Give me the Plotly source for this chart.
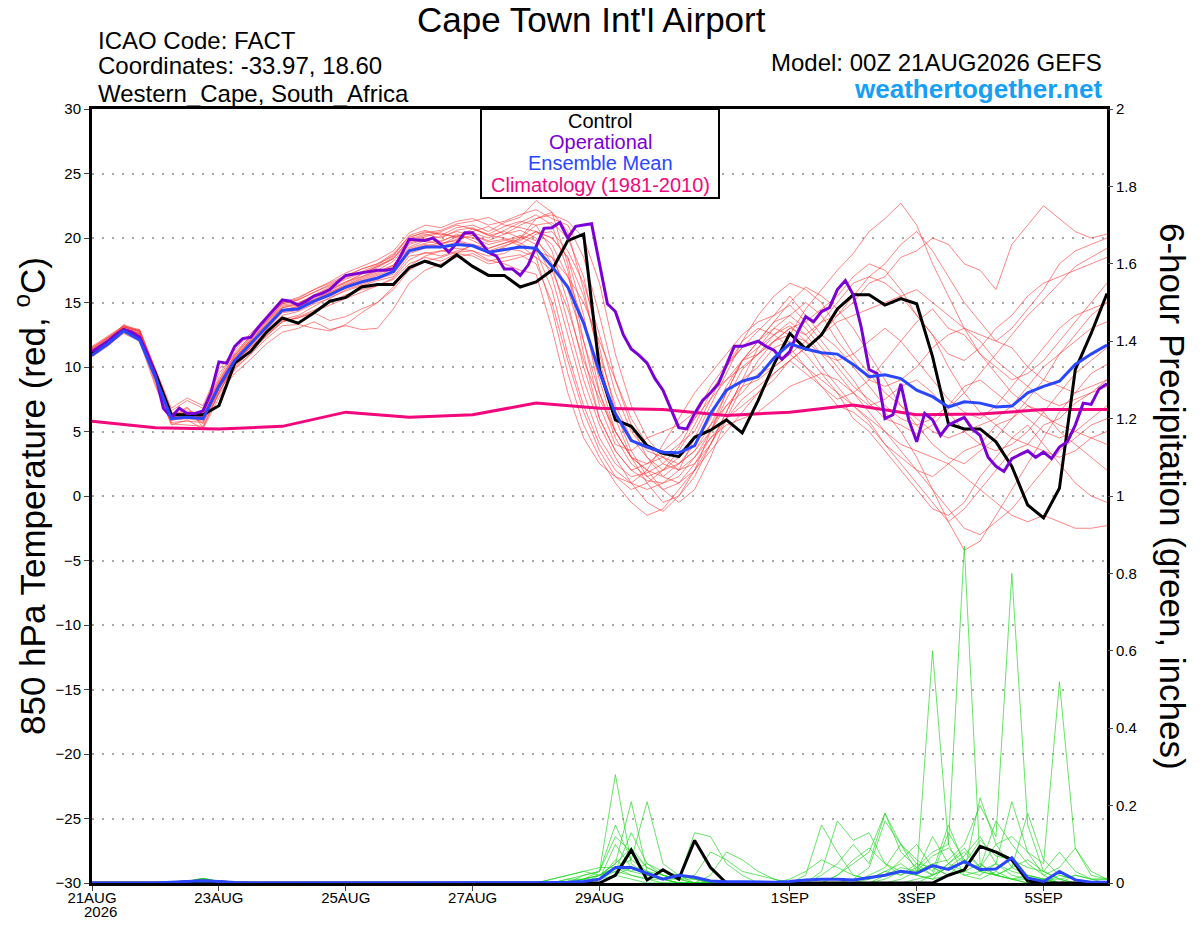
import pandas as pd
import plotly.graph_objects as go

# forecast times (GEFS 6-hourly, operational 3-hourly)
times = pd.date_range("2026-08-21 00:00", periods=65, freq="6h")
times_op = pd.date_range("2026-08-21 00:00", periods=129, freq="3h")
clim_times = pd.date_range("2026-08-21", periods=17, freq="D")

# 850 hPa temperature, ensemble members (deg C)
m01 = [11.3,12.1,13.0,12.6,9.4,6.2,6.0,6.2,8.8,10.8,12.0,13.3,14.6,14.8,15.4,15.9,16.6,17.0,17.5,18.2,19.6,20.0,19.7,20.3,19.8,19.2,19.6,20.1,19.5,17.0,12.5,8.0,4.5,2.5,1.5,1.8,2.5,3.8,6.0,8.5,10.2,11.5,12.8,14.0,14.8,13.5,12.0,10.5,9.0,7.2,6.0,5.5,4.8,5.5,6.8,8.0,9.5,11.0,12.5,14.0,15.2,16.5,17.8,18.5,19.2]
m02 = [11.0,11.9,13.2,12.4,9.0,5.8,6.5,5.6,8.0,10.2,11.5,12.8,14.0,14.3,14.9,15.3,16.0,16.4,16.8,17.2,18.8,19.2,19.5,20.1,20.4,20.0,20.6,21.2,21.8,21.0,17.5,11.0,6.0,3.5,2.0,1.2,1.0,1.5,3.0,5.0,7.5,9.8,11.0,12.5,13.2,12.0,10.0,8.5,7.0,5.8,4.0,2.5,1.0,-0.5,-2.0,-1.0,0.5,2.0,3.5,4.0,5.5,6.0,7.2,8.0,9.0]
m03 = [11.5,12.3,12.8,12.9,9.8,6.6,7.4,6.8,9.5,11.0,12.4,13.6,14.9,15.2,15.8,16.4,17.0,17.6,18.0,18.6,20.2,20.6,20.2,20.8,21.0,20.5,21.2,21.6,22.9,22.0,20.5,16.0,10.5,6.0,3.0,1.0,-0.5,0.0,1.5,4.0,6.5,9.0,11.5,13.0,12.5,14.5,16.0,17.5,18.8,20.5,21.5,22.7,21.0,18.0,15.5,13.0,11.0,9.5,8.0,7.0,6.2,5.5,5.0,4.5,4.0]
m04 = [10.8,11.6,12.7,12.2,8.7,5.5,5.9,5.2,7.6,9.8,11.0,12.5,13.6,13.8,14.2,13.6,13.9,14.5,15.0,16.2,17.8,18.6,19.0,18.8,19.5,19.0,19.4,19.8,20.5,20.0,18.5,14.0,8.0,4.5,2.5,1.5,2.0,3.0,4.0,5.5,8.0,10.5,12.0,13.5,14.0,13.0,11.5,10.0,8.5,7.5,6.5,5.0,3.0,0.5,-2.0,-4.2,-3.5,-1.5,0.5,2.5,4.5,6.5,8.0,9.5,10.2]
m05 = [11.2,12.0,13.3,12.7,9.2,6.0,6.3,6.5,9.0,10.9,12.2,13.5,14.8,15.0,15.5,16.0,16.5,17.2,17.8,18.4,19.9,20.3,20.0,20.6,20.8,20.2,20.0,19.6,19.0,16.0,11.0,7.0,4.0,2.0,1.0,0.5,1.0,2.0,4.5,7.0,9.5,12.0,14.0,15.5,16.5,16.0,15.0,13.0,11.0,9.5,8.0,7.0,6.0,5.0,4.5,5.0,5.5,6.0,7.0,8.5,10.0,11.0,12.0,13.0,13.5]
m06 = [11.1,12.0,12.9,12.4,9.2,6.1,6.8,6.0,8.4,10.0,11.2,12.4,13.5,13.9,14.4,15.0,15.6,16.0,16.3,16.8,18.0,18.5,18.2,18.8,18.6,18.0,18.2,18.5,19.0,18.5,17.0,15.0,12.0,9.0,6.0,4.0,2.5,2.0,3.0,4.5,6.0,7.5,8.5,9.5,10.5,11.5,12.5,14.0,15.0,16.5,17.0,18.5,19.0,20.0,19.5,18.0,17.5,16.0,19.5,21.0,22.5,21.5,20.5,20.0,20.3]
m07 = [11.4,12.2,13.1,12.8,9.6,6.4,6.2,6.0,8.6,10.6,12.0,13.0,14.3,14.6,15.3,15.8,16.3,16.9,17.3,17.9,19.3,19.8,19.5,19.9,20.2,19.7,19.9,19.4,18.5,14.5,9.5,5.5,3.0,1.0,-0.5,-1.5,-1.0,0.5,2.0,4.0,6.5,9.0,10.0,11.5,12.0,11.0,9.5,8.0,6.0,5.0,3.5,2.0,0.5,-1.0,-1.5,-0.5,1.5,3.0,4.5,5.5,4.0,2.5,1.0,0.0,-0.5]
m08 = [11.6,12.4,13.2,12.9,9.9,6.8,7.6,7.0,9.8,11.3,12.6,13.8,15.0,15.4,16.0,16.6,17.3,17.8,18.3,19.0,20.4,21.0,20.8,21.3,21.5,21.0,21.3,21.8,22.2,21.5,21.0,18.5,14.0,9.0,5.5,3.0,1.5,1.0,2.0,3.5,5.0,6.5,8.0,9.0,10.5,9.5,8.5,7.0,6.5,5.5,4.0,3.0,2.0,1.5,2.5,3.5,4.0,5.5,6.0,7.0,6.5,5.0,4.0,3.0,2.0]
m09 = [10.9,11.7,12.6,12.0,8.5,5.6,5.5,5.4,7.9,9.5,10.6,11.8,12.7,13.0,13.5,12.9,13.2,12.9,13.0,14.5,16.5,17.5,18.0,18.5,18.8,18.2,18.5,18.7,18.0,15.0,10.5,6.5,3.5,1.5,0.5,1.0,2.0,3.5,5.5,8.0,10.0,12.0,13.0,12.5,11.5,10.0,9.0,8.0,7.0,6.0,5.0,4.0,3.5,3.0,2.5,1.5,0.5,-0.5,-1.5,-2.0,-1.5,-2.0,-2.5,-2.5,-2.3]
m10 = [11.2,12.1,13.0,12.5,9.3,6.2,6.6,6.3,8.7,10.7,12.1,13.4,14.7,14.9,15.6,16.2,16.8,17.3,17.8,18.5,19.8,20.2,20.5,21.0,20.7,20.3,20.9,21.3,21.0,19.0,15.0,10.0,6.0,3.5,2.0,2.5,3.0,4.0,5.0,7.5,10.0,11.5,12.0,13.5,15.0,16.2,15.5,14.5,13.0,11.0,9.0,7.0,5.5,4.0,3.0,2.5,3.5,4.5,6.0,7.5,9.0,11.0,12.5,14.0,15.0]
m11 = [11.0,11.8,12.9,12.3,9.0,5.9,6.0,5.8,8.2,10.3,11.6,12.9,14.2,14.4,15.0,15.5,16.1,16.5,16.9,17.5,19.1,19.5,19.3,19.7,19.4,18.9,19.2,19.0,18.5,17.5,14.5,10.5,7.5,5.0,3.0,2.0,0.5,-0.5,0.5,3.0,6.0,8.5,10.5,12.0,13.0,12.5,13.5,14.0,15.5,17.0,18.0,19.5,20.5,19.0,17.0,15.0,13.5,12.0,11.5,10.0,9.0,8.5,8.0,8.5,9.0]
m12 = [10.9,11.9,13.0,12.5,9.1,6.0,6.2,6.1,8.5,10.4,11.5,12.6,13.7,14.0,14.7,15.4,15.9,16.3,16.7,17.0,18.6,18.8,19.0,19.2,19.0,18.6,18.8,19.5,20.3,20.5,19.0,16.5,12.5,8.0,5.0,3.5,3.0,2.5,3.5,5.0,7.0,8.5,9.0,10.0,11.0,10.0,8.5,7.5,8.0,9.0,10.5,12.0,13.5,14.5,13.0,12.5,11.0,10.0,9.0,9.5,10.5,12.0,13.5,15.0,16.5]
m13 = [11.3,12.2,13.1,12.7,9.5,6.3,6.4,6.4,8.9,10.9,12.3,13.5,14.9,15.2,15.8,16.3,16.9,17.4,17.9,18.7,20.0,20.5,20.3,20.1,20.7,20.2,20.5,20.0,21.5,22.0,18.0,12.0,7.0,4.0,3.5,4.5,5.0,5.5,6.5,8.0,9.0,10.0,11.0,12.0,13.0,13.5,14.5,15.5,17.0,18.0,17.5,16.0,14.0,12.5,11.0,10.5,11.5,13.0,14.0,15.5,16.5,17.0,17.5,18.0,18.5]
m14 = [11.0,11.8,12.8,12.3,9.1,6.0,6.1,5.9,8.3,10.1,11.3,12.4,13.5,13.8,14.3,14.8,15.3,15.8,16.3,16.9,18.3,18.9,18.6,19.0,19.4,18.8,19.3,20.0,21.0,21.2,20.0,17.0,11.5,6.5,3.5,1.5,0.5,1.0,2.5,4.5,5.5,6.0,6.5,7.5,8.5,9.0,9.5,9.0,8.0,6.5,5.0,3.5,2.0,0.5,-1.0,-2.5,-3.0,-2.0,-1.0,0.5,2.0,3.5,4.5,5.5,6.0]
m15 = [11.2,12.0,13.0,12.6,9.3,6.1,6.9,5.3,8.0,10.2,11.7,13.0,14.4,14.7,15.2,15.8,16.4,17.0,17.4,17.9,19.5,19.9,20.1,20.5,20.2,19.8,20.3,20.6,20.0,18.0,13.5,9.0,5.5,3.0,1.0,-0.5,-1.2,0.0,2.0,5.0,8.0,10.5,12.0,13.0,14.0,15.0,14.0,12.0,10.5,9.0,8.5,9.0,10.0,11.5,12.5,13.0,12.0,10.5,9.5,8.5,7.5,7.0,7.5,8.0,8.5]
m16 = [11.4,12.3,13.1,12.8,9.7,6.5,6.3,6.6,9.2,11.1,12.4,13.7,15.0,15.3,16.0,16.5,17.1,17.6,18.0,18.8,20.1,20.4,20.6,21.1,21.3,21.6,21.0,20.8,20.5,19.5,17.0,13.5,9.0,5.0,3.0,2.5,3.5,4.5,6.0,7.5,9.0,10.5,11.0,12.0,12.5,12.0,11.0,10.5,11.0,12.0,13.0,12.0,10.5,9.0,7.5,6.5,6.0,7.0,8.5,10.0,11.5,13.0,14.0,14.5,15.0]
m17 = [10.9,11.9,12.8,12.4,8.9,5.7,5.8,5.7,8.1,9.9,11.0,12.2,13.2,13.3,13.0,12.8,13.3,14.2,15.0,16.0,17.5,18.2,18.5,18.9,19.0,18.3,18.0,17.5,17.2,13.0,8.0,4.5,2.5,1.5,1.0,2.0,4.0,6.0,8.0,9.5,11.0,12.5,13.5,14.0,15.5,14.0,12.5,11.5,10.0,8.5,7.0,6.0,5.5,6.0,7.0,8.5,9.0,8.0,7.0,6.0,5.0,4.5,5.0,6.0,7.0]
m18 = [11.5,12.3,13.2,12.8,9.6,6.4,6.2,6.2,8.7,10.7,12.1,13.3,14.6,14.9,15.5,16.1,16.6,17.2,17.7,18.4,19.7,20.1,20.4,20.0,20.5,20.9,20.3,21.0,21.5,21.8,21.3,20.0,16.5,11.0,7.0,4.5,3.0,2.0,2.5,4.0,6.0,7.0,8.0,9.5,10.5,11.5,12.5,13.5,14.0,14.5,15.0,15.5,16.0,15.0,14.0,13.0,12.5,12.0,13.0,14.5,16.0,18.0,19.0,19.5,20.0]
m19 = [11.1,12.0,12.9,12.5,9.2,6.1,6.4,6.1,8.5,10.5,11.8,13.0,14.3,14.6,15.1,15.7,16.3,16.8,17.2,17.8,19.2,19.6,19.8,20.2,20.0,19.5,19.8,20.2,19.8,18.5,16.0,12.0,8.0,5.0,3.0,2.0,1.5,2.5,3.5,5.5,7.0,8.0,9.5,10.0,11.0,12.0,13.5,15.0,16.5,17.0,16.5,15.5,14.0,12.5,10.0,8.0,6.5,5.5,4.5,4.0,3.5,3.0,3.5,4.5,5.0]
m20 = [11.2,12.1,13.0,12.6,9.4,6.2,6.3,6.2,8.6,10.6,11.9,13.1,14.4,14.7,15.2,15.7,16.2,16.7,17.1,17.6,19.0,19.4,19.6,19.8,19.5,19.2,19.6,19.9,20.5,20.0,18.5,15.5,11.0,7.0,4.5,3.0,2.0,2.5,4.0,6.0,8.5,10.5,11.5,12.5,13.5,12.5,11.0,9.5,8.0,7.0,7.5,8.5,9.0,8.0,6.5,5.0,4.0,3.5,4.0,5.0,6.5,8.0,9.5,10.5,11.5]
members = [m01, m02, m03, m04, m05, m06, m07, m08, m09, m10,
           m11, m12, m13, m14, m15, m16, m17, m18, m19, m20]

control_t = [11.06,11.8,12.9,12.2,9.5,6.3,6.3,6.3,7.0,10.3,11.2,12.7,13.8,13.4,14.2,15.1,15.4,16.2,16.4,16.4,17.7,18.2,17.8,18.7,17.8,17.1,17.1,16.2,16.6,17.5,19.8,20.3,9.8,5.9,5.4,3.9,3.3,3.05,4.55,5.1,5.9,4.9,7.4,10.2,12.6,11.4,12.5,14.5,15.6,15.6,14.8,15.3,14.9,10.8,5.6,5.2,5.2,4.2,2.3,-0.7,-1.7,0.6,9.8,12.6,15.7]
mean_t = [10.9,11.8,12.8,12.1,9.2,6.0,6.1,6.0,8.5,10.5,11.8,13.1,14.4,14.5,15.1,15.6,16.2,16.6,16.9,17.4,19.0,19.3,19.3,19.5,19.4,18.9,19.1,19.3,19.2,17.8,16.2,13.4,9.6,6.4,4.3,3.8,3.4,3.35,3.9,6.4,8.2,8.9,9.25,10.7,11.8,11.4,11.1,11.0,10.2,9.25,9.4,9.1,8.2,7.7,6.9,7.3,7.2,6.9,6.97,8.0,8.5,8.9,10.2,11.0,11.7]
oper_t = [11.2,11.6,12.0,12.5,12.9,12.7,12.3,11.0,9.4,6.8,6.1,6.8,6.4,6.4,6.6,8.0,10.4,10.3,11.6,12.2,
          12.3,13.1,13.8,14.5,15.2,15.1,14.8,15.1,15.5,15.7,16.0,16.6,17.1,17.2,17.3,17.4,17.5,17.5,17.6,18.7,
          19.9,19.85,19.8,20.0,19.5,18.9,19.6,20.4,20.4,19.7,18.9,18.6,17.6,17.6,17.1,17.9,19.3,20.75,20.8,21.2,
          20.0,20.9,21.0,21.1,18.0,14.9,14.3,12.5,11.4,10.9,10.3,9.1,8.2,6.7,5.3,5.2,6.4,7.4,8.0,8.7,
          10.2,11.6,11.6,11.8,12.0,11.6,11.3,10.6,11.2,12.7,13.9,13.5,14.3,14.6,16.0,16.7,15.6,13.1,9.8,9.5,
          6.0,6.3,8.7,5.9,4.2,6.4,5.9,4.7,5.5,5.8,6.1,5.2,4.7,3.0,2.3,1.9,2.9,3.2,3.5,3.0,
          3.4,2.9,3.8,4.2,5.5,7.2,7.1,8.3,8.7]
climatology = [5.8,5.3,5.2,5.4,6.5,6.1,6.3,7.2,6.8,6.7,6.25,6.5,7.05,6.3,6.35,6.7,6.7]

# 6-hour precipitation (inches), members from 28 Aug onward; earlier steps are dry
dry = [0.0] * 28
blip = [0.0] * 6 + [0.004, 0.012, 0.004] + [0.0] * 19
g01 = [0,0,0.01,0.02,0.03,0.28,0.05,0.02,0.01,0,0,0,0,0,0,0,0,0.02,0.15,0.08,0.02,0.01,0.03,0.05,0.02,0.60,0.10,0.02,0.01,0.03,0.01,0,0.01,0,0,0,0]
g02 = [0,0.01,0.02,0.03,0.02,0.05,0.21,0.03,0.01,0.02,0.01,0,0,0,0,0,0,0,0.03,0.16,0.11,0.13,0.05,0.02,0.04,0.08,0.10,0.87,0.05,0.02,0.01,0,0,0.02,0.01,0,0]
g03 = [0,0,0,0.01,0.02,0.04,0.06,0.21,0.05,0.02,0,0,0,0,0,0,0,0,0,0.02,0.05,0.08,0.18,0.10,0.03,0.05,0.06,0.10,0.20,0.12,0.80,0.15,0.03,0.01,0,0,0]
g04 = [0,0,0,0,0.01,0.03,0.13,0.05,0.02,0.01,0.13,0.12,0.05,0.02,0,0,0,0,0,0,0,0.02,0.04,0.10,0.06,0.03,0.15,0.05,0.04,0.10,0.12,0.08,0.05,0.52,0.09,0.02,0.01]
g05 = [0,0,0,0.02,0.03,0.15,0.06,0.03,0.02,0.01,0,0.02,0.08,0.06,0.03,0.01,0,0,0,0,0,0.01,0.03,0.02,0.05,0.04,0.02,0.03,0.22,0.10,0.04,0.02,0.01,0,0,0,0]
g06 = [0,0,0,0,0.01,0.10,0.04,0.02,0.01,0,0,0,0,0,0,0,0,0,0.02,0.05,0.10,0.05,0.18,0.08,0.04,0.02,0.05,0.03,0.02,0.05,0.21,0.08,0.02,0,0,0,0]
g07 = [0,0,0.01,0.01,0.03,0.12,0.08,0.04,0.02,0.01,0,0,0,0,0,0,0,0,0,0,0.01,0.04,0.16,0.10,0.05,0.02,0.13,0.06,0.03,0.02,0.04,0.18,0.06,0.02,0.01,0,0]
g08 = [0,0,0,0,0.02,0.05,0.09,0.04,0.02,0.01,0.01,0,0,0,0,0,0,0,0,0,0,0,0,0.01,0.03,0.12,0.05,0.08,0.04,0.16,0.10,0.05,0.02,0.04,0.09,0.03,0.01]
g09 = [0,0.01,0.02,0.03,0.04,0.04,0.03,0.02,0.01,0,0,0,0,0,0,0,0,0,0,0,0,0,0.02,0.06,0.10,0.04,0.02,0.03,0.05,0.02,0.04,0.06,0.03,0.08,0.03,0.01,0]
g10 = [0,0,0,0,0.01,0.06,0.03,0.05,0.03,0.02,0.01,0,0,0,0,0,0.01,0.03,0.06,0.04,0.02,0.01,0.02,0.04,0.03,0.07,0.09,0.05,0.11,0.07,0.06,0.04,0.03,0.01,0,0,0]
g11 = [0,0,0,0.01,0.02,0.04,0.02,0.01,0.01,0.01,0.02,0.08,0.06,0.03,0.02,0.01,0,0,0,0,0,0,0,0,0.01,0.02,0.04,0.07,0.12,0.05,0.03,0.02,0.01,0,0,0,0]
g12 = [0,0,0,0,0,0.02,0.04,0.03,0.01,0,0,0,0,0,0,0,0,0,0,0.02,0.06,0.09,0.05,0.03,0.02,0.01,0.05,0.09,0.04,0.02,0.01,0.02,0.01,0,0.02,0.01,0.01]
g13 = [0,0,0,0.01,0.01,0.02,0.01,0,0,0,0,0,0,0,0,0,0,0,0,0,0,0,0.01,0.03,0.02,0.01,0.02,0.06,0.03,0.02,0.01,0.01,0,0,0,0,0]
g14 = [0,0,0.005,0.01,0.02,0.03,0.02,0.01,0,0,0,0,0,0,0,0,0,0,0,0,0,0,0,0,0,0.02,0.04,0.02,0.03,0.05,0.02,0.01,0.01,0.01,0.02,0.01,0.01]
rain_members = [blip + g01, dry + g02, dry + g03, dry + g04, blip + g05, dry + g06, dry + g07,
                dry + g08, blip + g09, dry + g10, dry + g11, dry + g12, dry + g13, dry + g14]

control_p = [0]*6 + [0.003,0.005,0.003] + [0]*24 + [0.02,0.085,0.008,0.034,0.01,0.11,0.04,0] + [0]*13 + [0.02,0.034,0.095,0.08,0.06,0.005] + [0]*5
mean_p = [0]*5 + [0.002,0.004,0.006,0.004,0.001] + [0]*19 + [0.001,0.002,0.004,0.01,0.04,0.04,0.025,0.01,0.02,0.015,0.005,0.003,0.003,0.002,0.002,0.004,0.008,0.01,0.01,0.008,0.015,0.02,0.03,0.025,0.045,0.035,0.055,0.035,0.036,0.065,0.013,0.004,0.03,0.008,0.002,0.002]

tick_dates = ["2026-08-21", "2026-08-23", "2026-08-25", "2026-08-27", "2026-08-29",
              "2026-09-01", "2026-09-03", "2026-09-05"]
tick_text = ["21AUG", "23AUG", "25AUG", "27AUG", "29AUG", "1SEP", "3SEP", "5SEP"]
start_year = "2026"

RED = "rgba(255,50,50,0.75)"
GREEN = "rgba(30,215,30,0.85)"
PURPLE = "#7b00d6"
BLUE = "#2a46ff"
PINK = "#f2077c"

fig = go.Figure()
for m in members:
    fig.add_trace(go.Scatter(x=times, y=m, mode="lines", line=dict(color=RED, width=0.8), hoverinfo="skip"))
for g in rain_members:
    fig.add_trace(go.Scatter(x=times, y=g, mode="lines", yaxis="y2", line=dict(color=GREEN, width=0.8), hoverinfo="skip"))
fig.add_trace(go.Scatter(x=clim_times, y=climatology, mode="lines", line=dict(color=PINK, width=3)))
fig.add_trace(go.Scatter(x=times, y=control_t, mode="lines", line=dict(color="black", width=3)))
fig.add_trace(go.Scatter(x=times_op, y=oper_t, mode="lines", line=dict(color=PURPLE, width=3)))
fig.add_trace(go.Scatter(x=times, y=mean_t, mode="lines", line=dict(color=BLUE, width=3)))
fig.add_trace(go.Scatter(x=times, y=control_p, mode="lines", yaxis="y2", line=dict(color="black", width=3)))
fig.add_trace(go.Scatter(x=times, y=mean_p, mode="lines", yaxis="y2", line=dict(color=BLUE, width=3)))

# page has an 8px body margin, so the figure is 16px smaller than the window
OFF = 8
W, H = 1200 - 2 * OFF, 927 - 2 * OFF
# plot area in page pixels: x 92..1107, y 109..883
L, R, T, B = 92, 1107, 109, 883
def px(x):
    return (x - L) / (R - L)
def py(y):
    return (B - y) / (B - T)

fig.update_layout(
    width=W, height=H,
    margin=dict(l=L - OFF, r=W - (R - OFF), t=T - OFF, b=H - (B - OFF), pad=0),
    paper_bgcolor="white", plot_bgcolor="white",
    font=dict(family="Liberation Sans, Arial, sans-serif", color="black"),
    showlegend=False,
    xaxis=dict(type="date", range=[times[0], times[-1]], tickvals=tick_dates, ticktext=tick_text,
               ticks="outside", ticklen=5, tickfont=dict(size=15), ticklabelstandoff=-6,
               showgrid=False, zeroline=False,
               showline=True, linewidth=3, linecolor="black", mirror=True, automargin=False),
    yaxis=dict(range=[-30, 30], dtick=5, ticks="outside", ticklen=5, tickfont=dict(size=15),
               showgrid=True, gridcolor="#a8a8a8", gridwidth=1.5, griddash="2px,8px", zeroline=False,
               showline=True, linewidth=3, linecolor="black", mirror=True, automargin=False),
    yaxis2=dict(range=[0, 2], dtick=0.2, overlaying="y", side="right", ticks="outside", ticklen=5,
                tickfont=dict(size=15), showgrid=False, zeroline=False, showline=False, automargin=False),
)

# year under the first date label
fig.add_annotation(text=start_year, xref="paper", yref="paper", x=px(100), y=py(912), showarrow=False,
                   xanchor="center", yanchor="middle", font=dict(size=15), borderpad=0)

# legend box
fig.add_shape(type="rect", xref="paper", yref="paper", x0=px(481), x1=px(719), y0=py(198), y1=py(109),
              fillcolor="white", line=dict(color="black", width=2), layer="above")
legend_items = [("Control", "black", 121), ("Operational", PURPLE, 142),
                ("Ensemble Mean", BLUE, 163), ("Climatology (1981-2010)", PINK, 185)]
for text, color, ypix in legend_items:
    fig.add_annotation(text=text, xref="paper", yref="paper", x=px(600), y=py(ypix), showarrow=False,
                       xanchor="center", yanchor="middle", font=dict(size=20, color=color))

header = [
    ("Cape Town Int'l Airport", 591, 20, "center", 35, "black", False),
    ("ICAO Code: FACT", 97, 40, "left", 24, "black", False),
    ("Coordinates: -33.97, 18.60", 97, 66, "left", 24, "black", False),
    ("Western_Cape, South_Africa", 97, 93, "left", 24, "black", False),
    ("Model: 00Z 21AUG2026 GEFS", 1103, 63, "right", 24, "black", False),
    ("weathertogether.net", 1103, 89, "right", 26, "#15a0f5", True),
]
for text, xpix, ypix, anchor, size, color, bold in header:
    fig.add_annotation(text="<b>%s</b>" % text if bold else text, xref="paper", yref="paper",
                       x=px(xpix), y=py(ypix), showarrow=False, xanchor=anchor, yanchor="middle",
                       font=dict(size=size, color=color), borderpad=0)

# axis titles
fig.add_annotation(text="850 hPa Temperature (red, <sup>o</sup>C)", xref="paper", yref="paper",
                   x=px(30), y=py(496), textangle=-90, showarrow=False, xanchor="center", yanchor="middle",
                   font=dict(size=35))
fig.add_annotation(text="6-hour Precipitation (green, inches)", xref="paper", yref="paper",
                   x=px(1173), y=py(496), textangle=90, showarrow=False, xanchor="center", yanchor="middle",
                   font=dict(size=35))

fig.write_html("out.html")
